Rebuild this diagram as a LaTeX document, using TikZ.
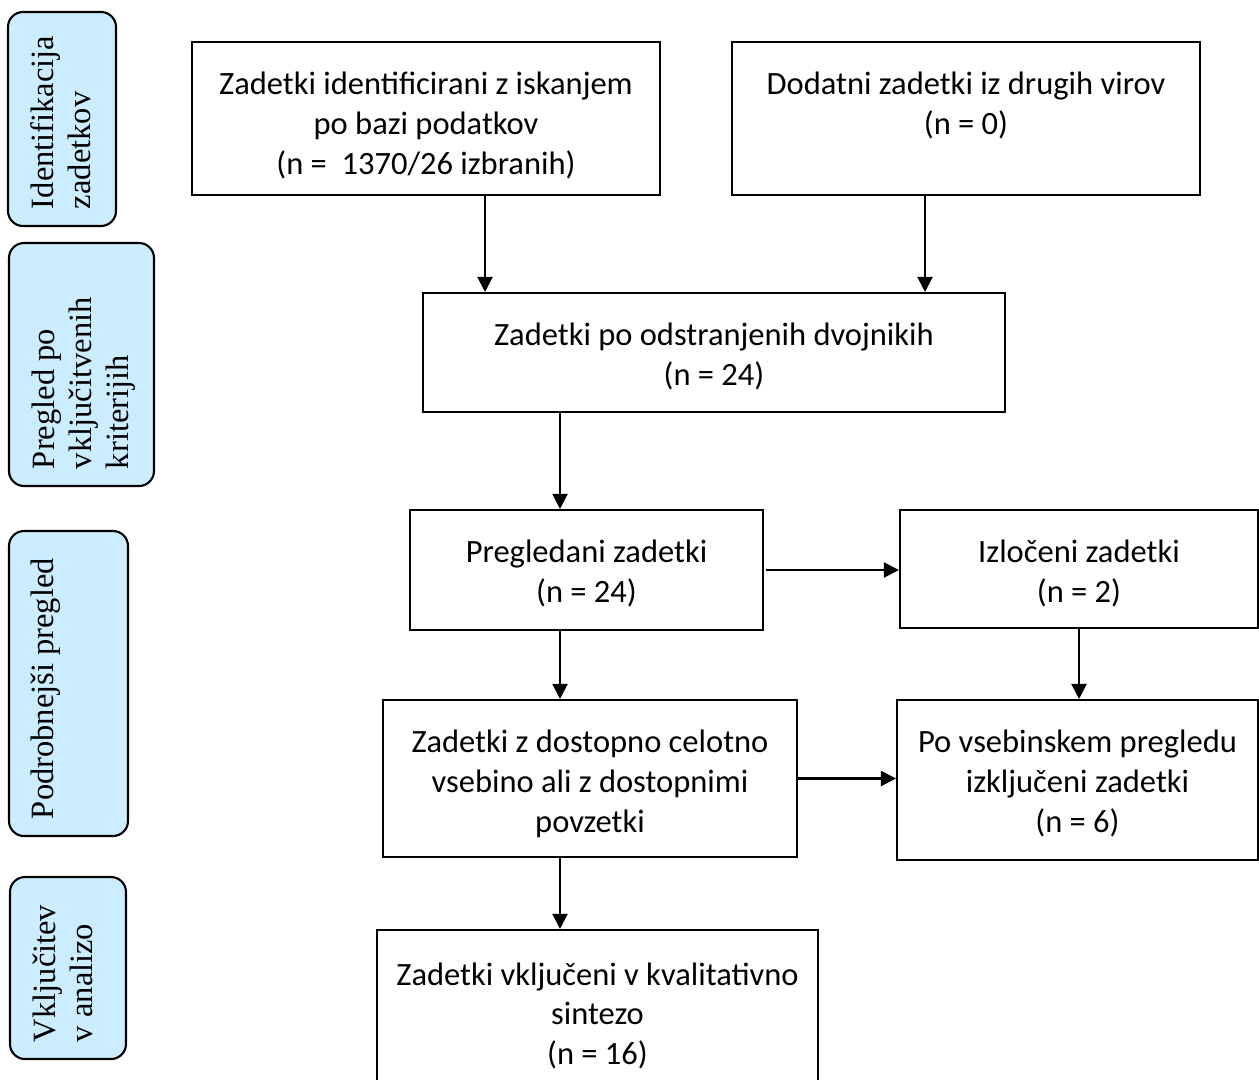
\documentclass[tikz,border=0pt]{standalone}
\usepackage{fontspec}
\setmainfont{Liberation Serif}
\newfontfamily\boxfont{Carlito}
\usepackage{tikz}
\usetikzlibrary{arrows.meta}
\usetikzlibrary{positioning}
\definecolor{phaseblue}{HTML}{CCECFF}
\newcommand{\lines}[1]{\begin{tabular}[t]{@{}c@{}}#1\end{tabular}}
\newcommand{\sidelines}[2]{\makebox[#1][l]{\begin{tabular}[t]{@{}l@{}}#2\end{tabular}}}
\tikzstyle{block} = [draw, rectangle, line width = 1.2pt, inner xsep = 2pt, inner ysep = 0pt, text height = 1.05cm, font = \boxfont\fontsize{18.5}{22.7}\selectfont]
\tikzstyle{phase} = [draw, rectangle, rounded corners = 0.3cm, fill = phaseblue, line width = 1.2pt, rotate = 90, inner xsep = 0.34cm, inner ysep = 0pt, text height = 0.9cm, font = \fontsize{18.5}{21.3}\selectfont]
\tikzstyle{arrow} = [line width = 1.2pt, -{Triangle[length=0.3cm, width=0.3cm]}]

\begin{document}
\begin{tikzpicture}

			\useasboundingbox[fill = white] (0,0) rectangle (25.18,-21.58);

			% phases on the left (text starts near the lower edge)
			\node[phase, text depth = 1.26cm] (ident) at (1.24,-2.38) {\sidelines{3.6cm}{Identifikacija\\zadetkov}};
			\node[phase, text depth = 2.0cm] (screen) at (1.63,-7.29) {\sidelines{4.18cm}{Pregled po\\vključitvenih\\kriterijih}};
			\node[phase, text depth = 1.48cm] (detail) at (1.37,-13.67) {\sidelines{5.42cm}{Podrobnejši pregled}};
			\node[phase, text depth = 1.42cm] (incl) at (1.36,-19.36) {\sidelines{2.96cm}{Vključitev\\v analizo}};

			% records (text hangs from the top of each box)
			\node[block, minimum width = 9.36cm, text depth = 2.01cm] (database) at (8.52,-2.37) {\lines{Zadetki identificirani z iskanjem\\po bazi podatkov\\(n =~ 1370/26 izbranih)}};
			\node[block, minimum width = 9.36cm, text depth = 2.01cm] (other) at (19.32,-2.37) {\lines{Dodatni zadetki iz drugih virov\\(n = 0)}};
			\node[block, minimum width = 11.64cm, text depth = 1.33cm] (nodup) at (14.28,-7.05) {\lines{Zadetki po odstranjenih dvojnikih\\(n = 24)}};
			\node[block, minimum width = 7.06cm, text depth = 1.35cm] (screened) at (11.73,-11.4) {\lines{Pregledani zadetki\\(n = 24)}};
			\node[block, minimum width = 7.16cm, text depth = 1.31cm] (excluded) at (21.58,-11.38) {\lines{Izločeni zadetki\\(n = 2)}};
			\node[block, minimum width = 8.28cm, text depth = 2.09cm] (fulltext) at (11.8,-15.57) {\lines{Zadetki z dostopno celotno\\vsebino ali z dostopnimi\\povzetki}};
			\node[block, minimum width = 7.22cm, text depth = 2.15cm] (ftexcl) at (21.55,-15.6) {\lines{Po vsebinskem pregledu\\izključeni zadetki\\(n = 6)}};
			\node[block, minimum width = 8.82cm, text height = 1.1cm, text depth = 2.5cm] (included) at (11.95,-20.4) {\lines{Zadetki vključeni v kvalitativno\\sintezo\\(n = 16)}};

			% connect
			\draw[arrow] ([xshift = 1.18cm]database.south) -- ([xshift = 1.18cm]database.south |- nodup.north);
			\draw[arrow] ([xshift = -0.82cm]other.south) -- ([xshift = -0.82cm]other.south |- nodup.north);
			\draw[arrow] ([xshift = -3.08cm]nodup.south) -- ([xshift = -3.08cm]nodup.south |- screened.north);
			\draw[arrow] ([xshift = 0.04cm]screened.east) -- (screened.east -| excluded.west);
			\draw[arrow] (excluded.south) -- (excluded.south |- ftexcl.north);
			\draw[arrow] ([xshift = -0.53cm]screened.south) -- ([xshift = -0.53cm]screened.south |- fulltext.north);
			\draw[arrow] (fulltext.east) -- (fulltext.east -| ftexcl.west);
			\draw[arrow] ([xshift = -0.6cm]fulltext.south) -- ([xshift = -0.6cm]fulltext.south |- included.north);

		\end{tikzpicture}
\end{document}
